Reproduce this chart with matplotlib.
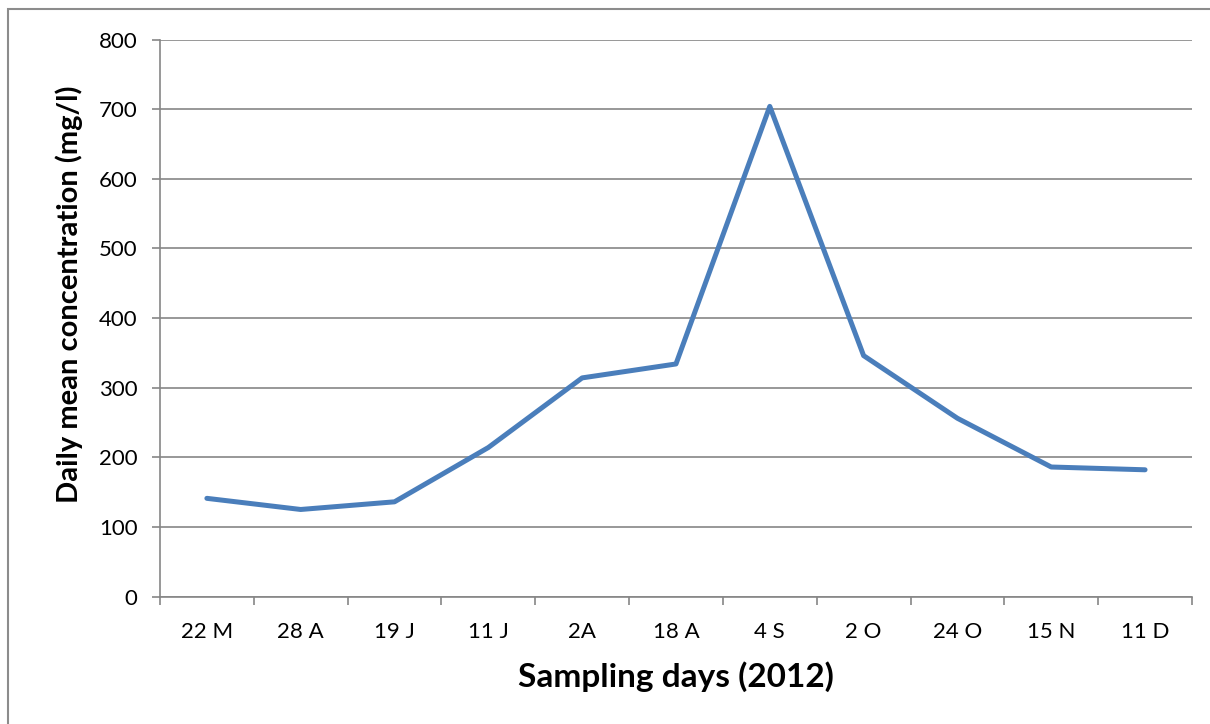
import matplotlib
matplotlib.use("Agg")
import matplotlib.pyplot as plt
from matplotlib.patches import Rectangle
import numpy as np

# Data
days = ["22 M", "28 A", "19 J", "11 J", "2A", "18 A", "4 S", "2 O", "24 O", "15 N", "11 D"]
concentration = [141, 125, 136, 214, 314, 334, 704, 346, 256, 186, 182]

GRID = "#868686"
LINE = "#4A7EBB"

plt.rcParams["font.family"] = ["Lato", "DejaVu Sans"]

fig = plt.figure(figsize=(12.10, 7.24), dpi=100)
ax = fig.add_axes([0.1322, 0.1761, 0.8529, 0.7693])

# outer chart frame (only left/top visible in the reference)
fig.patches.append(Rectangle((8 / 1210, -0.1), 1.2, (724 - 9) / 724 + 0.1,
                             transform=fig.transFigure, fill=False,
                             edgecolor="#8c8c8c", linewidth=1.5))

x = np.arange(len(days))
ax.plot(x, concentration, color=LINE, linewidth=3.6, solid_joinstyle="round",
        solid_capstyle="round", zorder=3)

ax.set_ylim(0, 800)
ax.set_xlim(-0.5, len(days) - 0.5)
ax.set_yticks(np.arange(0, 801, 100))
ax.yaxis.grid(True, color=GRID, linewidth=1.2)
ax.set_axisbelow(True)

# category ticks between labels, labels centred
ax.set_xticks(np.arange(-0.5, len(days), 1.0))
ax.set_xticklabels([])
ax.set_xticks(x, minor=True)
ax.set_xticklabels(days, minor=True)
ax.tick_params(axis="x", which="minor", length=0, pad=18, labelsize=16)
ax.tick_params(axis="x", which="major", length=6, width=1.2, color=GRID)
ax.tick_params(axis="y", length=6, width=1.2, color=GRID, labelsize=16, pad=10)

for s in ["top", "right"]:
    ax.spines[s].set_visible(False)
for s in ["left", "bottom"]:
    ax.spines[s].set_color(GRID)
    ax.spines[s].set_linewidth(1.2)

ax.set_xlabel("Sampling days (2012)", fontsize=24, fontweight="bold", labelpad=14)
ax.set_ylabel("Daily mean concentration (mg/l)", fontsize=21, fontweight="bold")
ax.yaxis.set_label_coords(-0.0745, 0.543)

fig.savefig("out.png", dpi=100)
